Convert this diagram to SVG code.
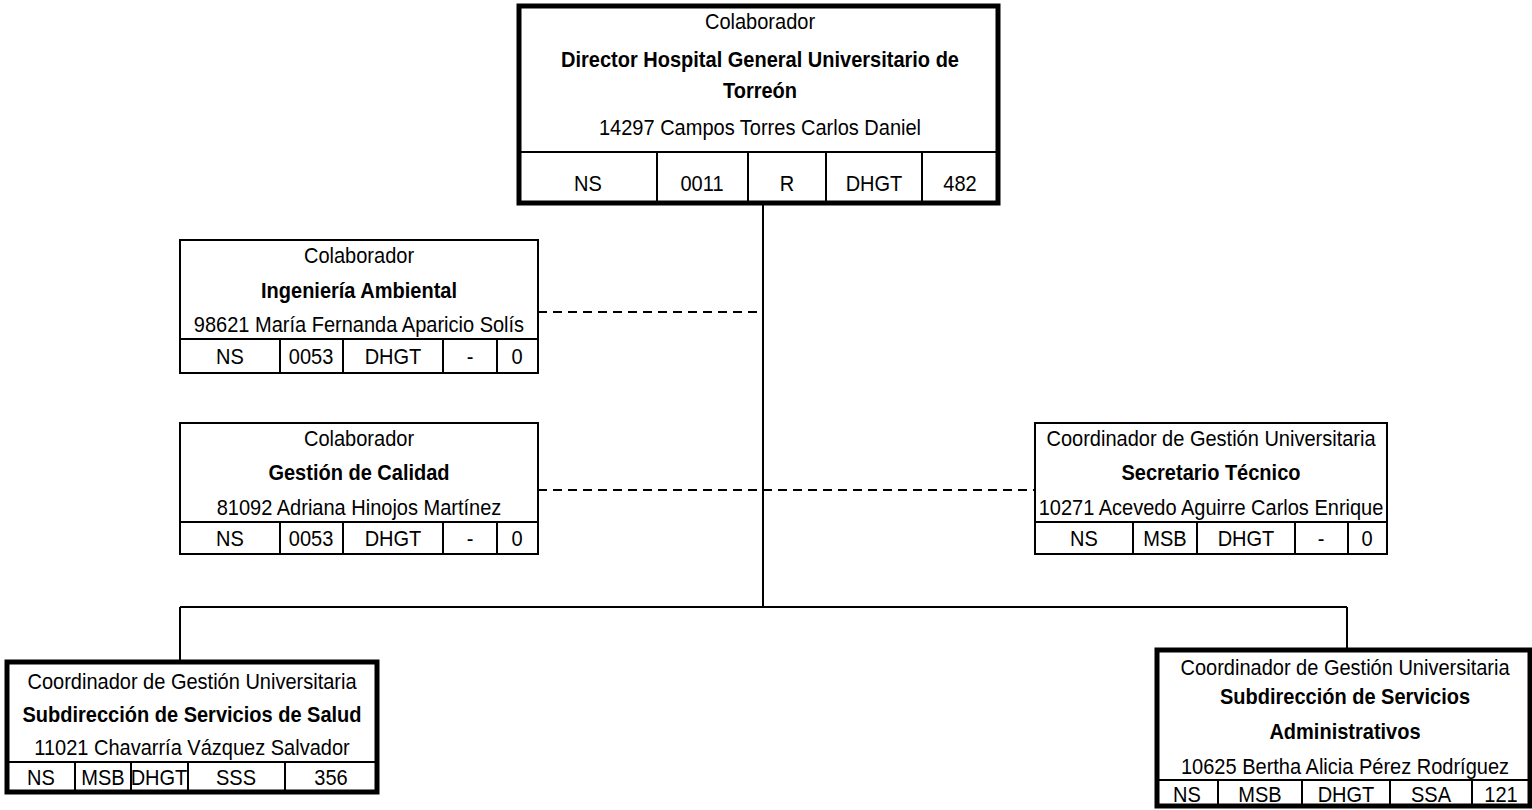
<svg xmlns="http://www.w3.org/2000/svg" width="1532" height="810" viewBox="0 0 1532 810">
<style>
text{font-family:"Liberation Sans",Arial,sans-serif;font-size:22px;fill:#000;text-anchor:middle}
.b{font-weight:bold}
.box{fill:#fff;stroke:#000;stroke-width:2}
.thick{fill:#fff;stroke:#000;stroke-width:5}
.ln{stroke:#000;stroke-width:2;fill:none}
.dash{stroke:#000;stroke-width:2;fill:none;stroke-dasharray:9,6}
</style>
<rect width="1532" height="810" fill="#fff"/>
<g id="connectors">
<path class="ln" d="M763,202 V607 M180,607 H1347 M180,607 V662 M1347,607 V650"/>
<path class="dash" d="M538,312 H763 M538,490 H1035"/>
</g>
<g id="director">
<rect class="thick" x="519" y="6" width="479" height="197"/>
<path class="ln" d="M519,152 H998 M657,152 V203 M748,152 V203 M826,152 V203 M922,152 V203"/>
<text transform="translate(760,29) scale(.91,1)">Colaborador</text>
<text class="b" transform="translate(760,67) scale(.91,1)">Director Hospital General Universitario de</text>
<text class="b" transform="translate(760,98) scale(.91,1)">Torreón</text>
<text transform="translate(760,135) scale(.91,1)">14297 Campos Torres Carlos Daniel</text>
<text transform="translate(588,191) scale(.91,1)">NS</text>
<text transform="translate(702,191) scale(.91,1)">0011</text>
<text transform="translate(787,191) scale(.91,1)">R</text>
<text transform="translate(874,191) scale(.91,1)">DHGT</text>
<text transform="translate(960,191) scale(.91,1)">482</text>
</g>
<g id="ingenieria">
<rect class="box" x="180" y="240" width="358" height="133"/>
<path class="ln" d="M180,339 H538 M280,339 V373 M343,339 V373 M443,339 V373 M497,339 V373"/>
<text transform="translate(359,263) scale(.91,1)">Colaborador</text>
<text class="b" transform="translate(359,298) scale(.91,1)">Ingeniería Ambiental</text>
<text transform="translate(359,332) scale(.91,1)">98621 María Fernanda Aparicio Solís</text>
<text transform="translate(230,364) scale(.91,1)">NS</text>
<text transform="translate(311,364) scale(.91,1)">0053</text>
<text transform="translate(393,364) scale(.91,1)">DHGT</text>
<text transform="translate(470,364) scale(.91,1)">-</text>
<text transform="translate(517,364) scale(.91,1)">0</text>
</g>
<g id="calidad">
<rect class="box" x="180" y="423" width="358" height="131"/>
<path class="ln" d="M180,522 H538 M280,522 V554 M343,522 V554 M443,522 V554 M497,522 V554"/>
<text transform="translate(359,446) scale(.91,1)">Colaborador</text>
<text class="b" transform="translate(359,480) scale(.91,1)">Gestión de Calidad</text>
<text transform="translate(359,515) scale(.91,1)">81092 Adriana Hinojos Martínez</text>
<text transform="translate(230,546) scale(.91,1)">NS</text>
<text transform="translate(311,546) scale(.91,1)">0053</text>
<text transform="translate(393,546) scale(.91,1)">DHGT</text>
<text transform="translate(470,546) scale(.91,1)">-</text>
<text transform="translate(517,546) scale(.91,1)">0</text>
</g>
<g id="secretario">
<rect class="box" x="1035" y="423" width="352" height="131"/>
<path class="ln" d="M1035,522 H1387 M1133,522 V554 M1197,522 V554 M1295,522 V554 M1348,522 V554"/>
<text transform="translate(1211,446) scale(.91,1)">Coordinador de Gestión Universitaria</text>
<text class="b" transform="translate(1211,480) scale(.91,1)">Secretario Técnico</text>
<text transform="translate(1211,515) scale(.91,1)">10271 Acevedo Aguirre Carlos Enrique</text>
<text transform="translate(1084,546) scale(.91,1)">NS</text>
<text transform="translate(1165,546) scale(.91,1)">MSB</text>
<text transform="translate(1246,546) scale(.91,1)">DHGT</text>
<text transform="translate(1321,546) scale(.91,1)">-</text>
<text transform="translate(1367,546) scale(.91,1)">0</text>
</g>
<g id="salud">
<rect class="thick" x="7" y="662" width="370" height="130"/>
<path class="ln" d="M7,762 H377 M75,762 V792 M131,762 V792 M188,762 V792 M285,762 V792"/>
<text transform="translate(192,689) scale(.91,1)">Coordinador de Gestión Universitaria</text>
<text class="b" transform="translate(192,722) scale(.91,1)">Subdirección de Servicios de Salud</text>
<text transform="translate(192,755) scale(.91,1)">11021 Chavarría Vázquez Salvador</text>
<text transform="translate(41,785) scale(.91,1)">NS</text>
<text transform="translate(103,785) scale(.91,1)">MSB</text>
<text transform="translate(159,785) scale(.91,1)">DHGT</text>
<text transform="translate(236,785) scale(.91,1)">SSS</text>
<text transform="translate(331,785) scale(.91,1)">356</text>
</g>
<g id="administrativos">
<rect class="thick" x="1157" y="650" width="373" height="156"/>
<path class="ln" d="M1157,780 H1530 M1218,780 V806 M1302,780 V806 M1390,780 V806 M1472,780 V806"/>
<text transform="translate(1345,675) scale(.91,1)">Coordinador de Gestión Universitaria</text>
<text class="b" transform="translate(1345,704) scale(.91,1)">Subdirección de Servicios</text>
<text class="b" transform="translate(1345,739) scale(.91,1)">Administrativos</text>
<text transform="translate(1345,774) scale(.91,1)">10625 Bertha Alicia Pérez Rodríguez</text>
<text transform="translate(1187,802) scale(.91,1)">NS</text>
<text transform="translate(1260,802) scale(.91,1)">MSB</text>
<text transform="translate(1346,802) scale(.91,1)">DHGT</text>
<text transform="translate(1431,802) scale(.91,1)">SSA</text>
<text transform="translate(1501,802) scale(.91,1)">121</text>
</g>
</svg>
